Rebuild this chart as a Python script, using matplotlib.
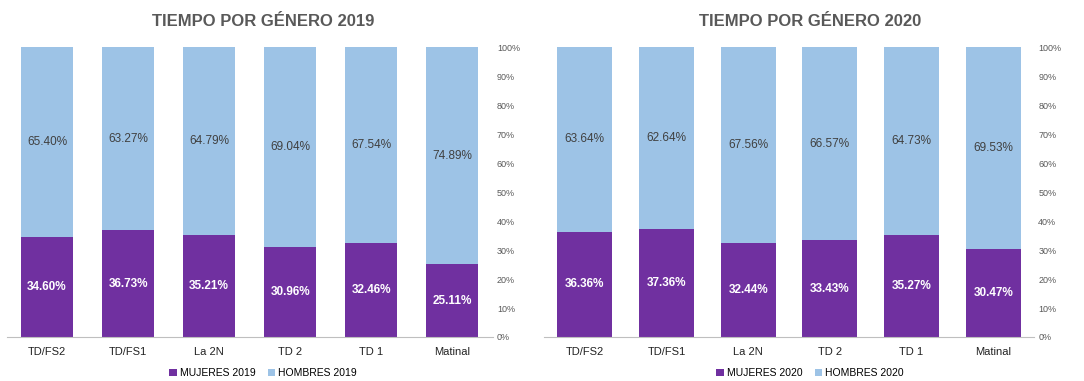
import matplotlib.pyplot as plt
from matplotlib.ticker import FuncFormatter

programas = ["TD/FS2", "TD/FS1", "La 2N", "TD 2", "TD 1", "Matinal"]
mujeres_2019 = [34.60, 36.73, 35.21, 30.96, 32.46, 25.11]
hombres_2019 = [65.40, 63.27, 64.79, 69.04, 67.54, 74.89]
mujeres_2020 = [36.36, 37.36, 32.44, 33.43, 35.27, 30.47]
hombres_2020 = [63.64, 62.64, 67.56, 66.57, 64.73, 69.53]

MORADO = "#7030A0"
AZUL = "#9DC3E6"

plt.rcParams["font.family"] = ["Liberation Sans", "DejaVu Sans"]

fig = plt.figure(figsize=(10.84, 3.81), dpi=100)


def panel(rect, anio, muj, hom, ancho, centro):
    ax = fig.add_axes(rect)
    x = range(len(programas))
    ax.bar(x, muj, width=ancho, color=MORADO, label=f"MUJERES {anio}")
    ax.bar(x, hom, width=ancho, bottom=muj, color=AZUL, label=f"HOMBRES {anio}")
    for i, (m, h) in enumerate(zip(muj, hom)):
        ax.text(i, m / 2, f"{m:.2f}%", ha="center", va="center",
                color="white", fontsize=8.5, fontweight="bold")
        ax.text(i, m + h / 2, f"{h:.2f}%", ha="center", va="center",
                color="#404040", fontsize=8.5)
    ax.set_xlim(-0.5, len(programas) - 0.5)
    ax.set_ylim(0, 100)
    ax.set_xticks(list(x))
    ax.set_xticklabels(programas, fontsize=8, color="#222222")
    ax.set_yticks(range(0, 101, 10))
    ax.yaxis.set_major_formatter(FuncFormatter(lambda v, p: f"{v:.0f}%"))
    ax.yaxis.tick_right()
    ax.tick_params(axis="y", length=0, pad=3, labelsize=6.5, labelcolor="#595959")
    ax.tick_params(axis="x", length=0, pad=7)
    for s in ["top", "left", "right"]:
        ax.spines[s].set_visible(False)
    ax.spines["bottom"].set_color("#BFBFBF")
    ax.set_title(f"TIEMPO POR GÉNERO {anio}", fontsize=12, fontweight="bold",
                 color="#595959", pad=15, x=centro)
    ax.legend(loc="center", bbox_to_anchor=(centro, -0.124), ncol=2,
              frameon=False, fontsize=7.5, handlelength=0.7, handleheight=0.7,
              handletextpad=0.3, columnspacing=1.2, borderpad=0.1)
    return ax


panel([0.006, 0.1155, 0.4485, 0.761], 2019, mujeres_2019, hombres_2019, 0.64, 0.528)
panel([0.5018, 0.1155, 0.4521, 0.761], 2020, mujeres_2020, hombres_2020, 0.67, 0.543)

fig.savefig("out.png", dpi=100)
